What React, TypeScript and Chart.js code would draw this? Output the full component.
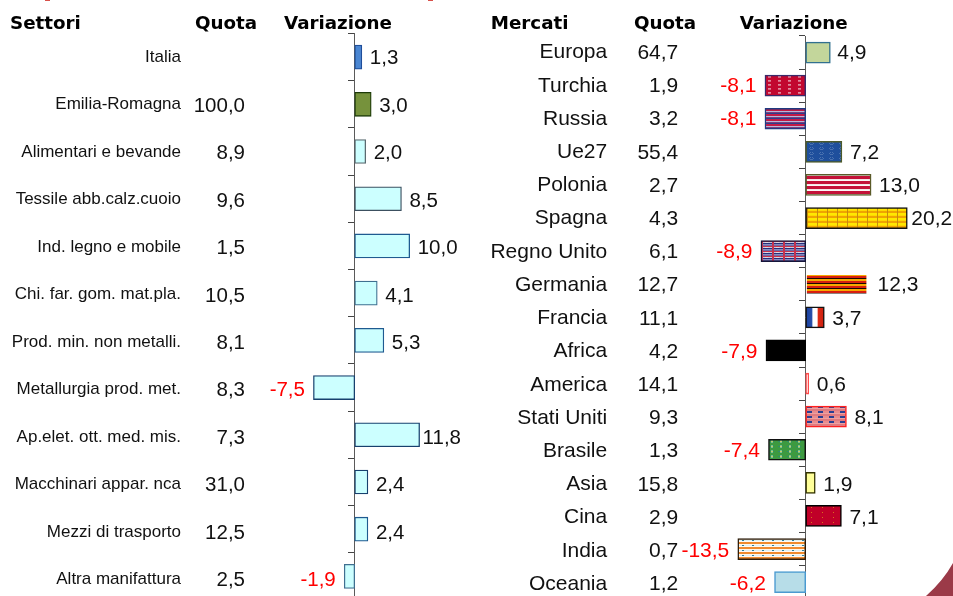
import React, { useEffect, useRef } from "react";
import { Chart, registerables } from "chart.js";

Chart.register(...registerables);

// ---------- data ----------
const sectorLabels = [
  "Italia", "Emilia-Romagna", "Alimentari e bevande", "Tessile abb.calz.cuoio", "Ind. legno e mobile",
  "Chi. far. gom. mat.pla.", "Prod. min. non metalli.", "Metallurgia prod. met.", "Ap.elet. ott. med. mis.",
  "Macchinari appar. nca", "Mezzi di trasporto", "Altra manifattura",
];
const sectorQuota: (number | null)[] = [null, 100.0, 8.9, 9.6, 1.5, 10.5, 8.1, 8.3, 7.3, 31.0, 12.5, 2.5];
const sectorChange = [1.3, 3.0, 2.0, 8.5, 10.0, 4.1, 5.3, -7.5, 11.8, 2.4, 2.4, -1.9];

const marketLabels = [
  "Europa", "Turchia", "Russia", "Ue27", "Polonia", "Spagna", "Regno Unito", "Germania", "Francia",
  "Africa", "America", "Stati Uniti", "Brasile", "Asia", "Cina", "India", "Oceania",
];
const marketQuota: (number | null)[] = [64.7, 1.9, 3.2, 55.4, 2.7, 4.3, 6.1, 12.7, 11.1, 4.2, 14.1, 9.3, 1.3, 15.8, 2.9, 0.7, 1.2];
const marketChange = [4.9, -8.1, -8.1, 7.2, 13.0, 20.2, -8.9, 12.3, 3.7, -7.9, 0.6, 8.1, -7.4, 1.9, 7.1, -13.5, -6.2];

// ---------- styles ----------
const SANS = '"Liberation Sans", Arial, sans-serif';
const HEAD = 'bold 18.3px "DejaVu Sans", sans-serif';
const comma = (v: number) => v.toFixed(1).replace(".", ",");

type Painter = (c: CanvasRenderingContext2D) => void;

function tile(w: number, h: number, paint: Painter) {
  const t = document.createElement("canvas");
  t.width = w;
  t.height = h;
  paint(t.getContext("2d")!);
  return t;
}

function stripes(c: CanvasRenderingContext2D, w: number, rows: [string, number][]) {
  let y = 0;
  for (const [col, hgt] of rows) {
    c.fillStyle = col;
    c.fillRect(0, y, w, hgt);
    y += hgt;
  }
}

const tiles: Record<string, () => HTMLCanvasElement> = {
  Turchia: () => tile(10, 4, (c) => {
    c.fillStyle = "#c2072f"; c.fillRect(0, 0, 10, 4);
    c.fillStyle = "#e08a9e"; c.fillRect(3, 1, 3, 1);
    c.fillStyle = "#d9647f"; c.fillRect(3, 2, 3, 1);
  }),
  Russia: () => tile(4, 5, (c) => stripes(c, 4, [["#2b3f8c", 1], ["#c21b48", 2], ["#b8b8d8", 1], ["#7a3f80", 1]])),
  Ue27: () => tile(10, 5, (c) => {
    c.fillStyle = "#1f4f9c"; c.fillRect(0, 0, 10, 5);
    c.fillStyle = "#4a72b0";
    c.fillRect(4, 1, 1, 1); c.fillRect(6, 1, 1, 1); c.fillRect(3, 2, 1, 1); c.fillRect(7, 2, 1, 1); c.fillRect(4, 3, 3, 1);
  }),
  Polonia: () => tile(4, 5, (c) => stripes(c, 4, [["#f4e6e6", 1], ["#fbf6f6", 1], ["#c41238", 3]])),
  Spagna: () => tile(10, 5, (c) => {
    stripes(c, 10, [["#ffe800", 2], ["#ffd800", 1], ["#f0a400", 2]]);
    c.fillStyle = "#c88a10"; c.fillRect(1, 0, 1, 5);
  }),
  "Regno Unito": () => tile(11, 5, (c) => {
    stripes(c, 11, [["#c7334d", 1], ["#c8c8e0", 1], ["#25307c", 1], ["#8a8cc0", 1], ["#6a6ca8", 1]]);
    c.fillStyle = "#c5324e"; c.fillRect(0, 0, 2, 5);
    c.fillStyle = "#e4d8e0"; c.fillRect(4, 1, 3, 1);
  }),
  Germania: () => tile(4, 5, (c) => stripes(c, 4, [["#f7a800", 2], ["#d81e10", 2], ["#1a0a00", 1]])),
  "Stati Uniti": () => tile(11, 5, (c) => {
    stripes(c, 11, [["#e88c8e", 2], ["#eea0a0", 1], ["#e07a80", 2]]);
    c.fillStyle = "#2b3f92"; c.fillRect(1, 0, 5, 2);
  }),
  Brasile: () => tile(9, 5, (c) => {
    c.fillStyle = "#3d9a40"; c.fillRect(0, 0, 9, 5);
    c.fillStyle = "#2f8a70"; c.fillRect(1, 2, 5, 1);
    c.fillStyle = "#6fbe98"; c.fillRect(3, 1, 2, 3);
    c.fillStyle = "#c8d060"; c.fillRect(3, 2, 2, 1);
  }),
  Cina: () => tile(11, 5, (c) => {
    c.fillStyle = "#c00028"; c.fillRect(0, 0, 11, 5);
    c.fillStyle = "#d8701e"; c.fillRect(5, 2, 1, 1);
  }),
  India: () => tile(10, 5, (c) => {
    stripes(c, 10, [["#fdf6ea", 1], ["#dfeff0", 1], ["#fff8f0", 1], ["#f08a2c", 2]]);
    c.fillStyle = "#2c7f98"; c.fillRect(4, 1, 2, 1);
  }),
};

const sectorFills = ["#4a86d2", "#76923c", ...Array(10).fill("#ccffff")];
const sectorBorders = ["#1f4e9a", "#1c3a08", "#5a6a70", "#3c5060", "#1f5a90", "#3f6f90", "#1f5a90", "#17406e", "#17406e", "#17406e", "#1f5a90", "#3f6f90"];

const marketPlain: Record<string, string> = {
  Europa: "#c3d69b", Turchia: "#c2072f", Russia: "#c21b48", Ue27: "#1f4f9c", Polonia: "#c41238", Spagna: "#ffd400",
  "Regno Unito": "#6a6ca8", Germania: "#c81a10", Francia: "#ffffff", Africa: "#000000", America: "#fff0f0",
  "Stati Uniti": "#e88c8e", Brasile: "#3d9a40", Asia: "#ffff99", Cina: "#c00028", India: "#fdf6ea", Oceania: "#b7dde8",
};
const marketBorders = [
  "#31708f", "#3a2a6a", "#1f3a80", "#4c5a2a", "#5a5a28", "#111111", "#15153a", "rgba(0,0,0,0)", "#111111",
  "#000000", "#ff4a4a", "#ff2020", "#111111", "#333300", "#000000", "#2a1a08", "#4a9ad0",
];

function marketFill(ctx: any) {
  const chart = ctx.chart;
  const name = marketLabels[ctx.dataIndex];
  const plain = marketPlain[name];
  if (!chart.chartArea) return plain;
  const xs = chart.scales.x, ys = chart.scales.y;
  const v = marketChange[ctx.dataIndex];
  const x0 = xs.getPixelForValue(Math.min(0, v));
  const x1 = xs.getPixelForValue(Math.max(0, v));
  const top = Math.round(ys.getPixelForValue(ctx.dataIndex) - ctx.dataset.barThickness / 2);
  if (name === "Francia") {
    const g = chart.ctx.createLinearGradient(x0, 0, x1, 0);
    g.addColorStop(0, "#173f9e"); g.addColorStop(0.34, "#2a50aa");
    g.addColorStop(0.38, "#ffffff"); g.addColorStop(0.62, "#ffffff");
    g.addColorStop(0.66, "#dc2a14"); g.addColorStop(1, "#cc2010");
    return g;
  }
  if (!tiles[name]) return plain;
  const p = chart.ctx.createPattern(tiles[name](), "repeat")!;
  p.setTransform(new DOMMatrix().translate(Math.round(x0), top));
  return p;
}

// gap between bar end and value label where it differs from the usual one
const sectorGapOverride: Record<number, number> = { 8: 3 };
const marketGapOverride: Record<number, number> = { 5: 4, 7: 10, 0: 7 };

type Panel = {
  labels: string[]; quota: (number | null)[]; change: number[];
  fill: any; borders: string[]; thickness: number; barBorder: number;
  min: number; max: number; padding: any;
  labelRight: number; quotaRight: number; labelFont: string; valueFont: string;
  valueDy: (i: number) => number; labelDy: (i: number) => number; gaps: Record<number, number>;
  heads: [string, number][]; axisWidth: number; decorate?: Painter;
};

function panelConfig(p: Panel): any {
  const textPlugin = {
    id: "panelText",
    afterDraw(chart: any) {
      const c: CanvasRenderingContext2D = chart.ctx;
      const meta = chart.getDatasetMeta(0);
      c.save();
      c.textBaseline = "middle";
      p.labels.forEach((lab, i) => {
        const bar = meta.data[i];
        const y = bar.y;
        c.fillStyle = "#111111";
        c.font = p.labelFont;
        c.textAlign = "right";
        c.fillText(lab, p.labelRight, y + p.labelDy(i));
        c.font = p.valueFont;
        const q = p.quota[i];
        if (q !== null) c.fillText(comma(q), p.quotaRight, y + p.valueDy(i));
        const v = p.change[i];
        const gap = p.gaps[i] ?? 8;
        if (v < 0) {
          c.fillStyle = "#ff0000";
          c.fillText(comma(v), bar.x - gap - 0.5, y + p.valueDy(i));
        } else {
          c.fillStyle = "#111111";
          c.textAlign = "left";
          c.fillText(comma(v), bar.x + gap, y + p.valueDy(i));
        }
      });
      c.textBaseline = "alphabetic";
      c.textAlign = "left";
      c.fillStyle = "#000000";
      c.font = HEAD;
      p.heads.forEach(([t, x]) => c.fillText(t, x, 29));
      if (p.decorate) p.decorate(c);
      c.restore();
    },
  };
  return {
    type: "bar",
    data: {
      labels: p.labels,
      datasets: [{
        data: p.change,
        backgroundColor: p.fill,
        borderColor: p.borders,
        borderWidth: p.barBorder,
        borderSkipped: false,
        barThickness: p.thickness,
      }],
    },
    options: {
      indexAxis: "y",
      responsive: false,
      animation: false,
      devicePixelRatio: 1,
      layout: { padding: p.padding },
      plugins: { legend: { display: false }, tooltip: { enabled: false }, title: { display: false } },
      scales: {
        x: { type: "linear", display: false, min: p.min, max: p.max },
        y: {
          type: "category",
          position: { x: 0 },
          offset: true,
          grid: { offset: true, drawOnChartArea: false, drawTicks: true, tickLength: 6, color: "#444444", tickWidth: 1 },
          border: { display: true, color: "#5a5a5a", width: p.axisWidth },
          ticks: { display: false, autoSkip: false },
        },
      },
    },
    plugins: [textPlugin],
  };
}

const sectorPanel: Panel = {
  labels: sectorLabels, quota: sectorQuota, change: sectorChange,
  fill: (ctx: any) => sectorFills[ctx.dataIndex], borders: sectorBorders, thickness: 24, barBorder: 1.3,
  min: -10, max: 15,
  padding: { left: 299.7, right: 42.8, top: 33.5, bottom: 4 },
  labelRight: 181, quotaRight: 245,
  labelFont: `17px ${SANS}`, valueFont: `20.5px ${SANS}`,
  valueDy: (i) => 1.6 + 0.22 * i, labelDy: (i) => 0.2 + 0.28 * i, gaps: sectorGapOverride,
  heads: [["Settori", 10], ["Quota", 195], ["Variazione", 284]], axisWidth: 1,
  decorate: (c) => { c.fillStyle = "#d8504a"; c.fillRect(45, 0, 5, 1); c.fillRect(428, 0, 5, 1); },
};

const marketPanel: Panel = {
  labels: marketLabels, quota: marketQuota, change: marketChange,
  fill: marketFill, borders: marketBorders, thickness: 21, barBorder: 1.5,
  min: -15, max: 25,
  padding: { left: 250.25, right: 21.55, top: 36, bottom: 5.3 },
  labelRight: 127.2, quotaRight: 198.3,
  labelFont: `21px ${SANS}`, valueFont: `21px ${SANS}`,
  valueDy: (i) => 0.6 + 0.11 * i, labelDy: (i) => 0.1 + 0.11 * i, gaps: marketGapOverride,
  heads: [["Mercati", 10.7], ["Quota", 154], ["Variazione", 259.7]], axisWidth: 1,
  decorate: (c) => {
    c.fillStyle = "#9b3a48";
    c.beginPath();
    c.moveTo(446, 604);
    c.lineTo(446, 596);
    c.quadraticCurveTo(463, 581, 473, 563);
    c.lineTo(473, 604);
    c.closePath();
    c.fill();
  },
};

function ChartCanvas({ panel, left, width }: { panel: Panel; left: number; width: number }) {
  const ref = useRef<HTMLCanvasElement>(null);
  useEffect(() => {
    const chart = new Chart(ref.current!, panelConfig(panel));
    return () => chart.destroy();
  }, [panel]);
  return <canvas ref={ref} width={width} height={604} style={{ position: "absolute", left, top: 0, width, height: 604 }} />;
}

export default function App() {
  return (
    <div style={{ position: "fixed", left: 0, top: 0, width: 953, height: 596, overflow: "hidden", background: "#fff" }}>
      <ChartCanvas panel={sectorPanel} left={0} width={480} />
      <ChartCanvas panel={marketPanel} left={480} width={473} />
    </div>
  );
}
